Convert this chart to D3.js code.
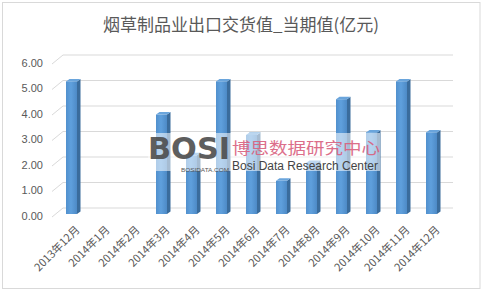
<!DOCTYPE html>
<html>
<head>
<meta charset="utf-8">
<script src="https://cdn.jsdelivr.net/npm/d3@7"></script>
<style>
  html, body { margin: 0; padding: 0; background: #fff; }
  svg { display: block; }
</style>
</head>
<body>
<div id="chart"></div>
<script>
const categories = ['2013年12月', '2014年1月', '2014年2月', '2014年3月', '2014年4月', '2014年5月', '2014年6月',
  '2014年7月', '2014年8月', '2014年9月', '2014年10月', '2014年11月', '2014年12月'];
const values = [5.2, null, null, 3.9, 2.3, 5.2, 3.1, 1.3, 2.0, 4.5, 3.2, 5.2, 3.2];
const yTicks = [0, 1, 2, 3, 4, 5, 6];
const titleText = '烟草制品业出口交货值_当期值(亿元)';

const W = 483, H = 291;
const DEPTH = { dx: 11, dy: -8 };   // back wall offset
const BAR = { dy: -2, w: 11, side: 3.5, rise: 2.5 };

const svg = d3.select('#chart').append('svg')
  .attr('width', W).attr('height', H)
  .style('font-family', '"Noto Sans CJK SC", "Liberation Sans", sans-serif');

const defs = svg.append('defs');
const grad = defs.append('linearGradient').attr('id', 'barFront')
  .attr('x1', 0).attr('x2', 1).attr('y1', 0).attr('y2', 0);
grad.selectAll('stop')
  .data([{ o: '0%', c: '#5190cd' }, { o: '45%', c: '#5fa0dd' }, { o: '100%', c: '#4d8ac6' }])
  .join('stop').attr('offset', d => d.o).attr('stop-color', d => d.c);

// chart frame
svg.append('rect')
  .attr('x', 2.5).attr('y', 2.5).attr('width', W - 5.5).attr('height', H - 5)
  .attr('fill', '#fff').attr('stroke', '#d9d9d9');

svg.append('text')
  .attr('x', 241).attr('y', 31)
  .attr('text-anchor', 'middle')
  .attr('font-size', 17)
  .attr('fill', '#595959')
  .text(titleText);

const x = d3.scaleBand().domain(categories).range([56, 446]);
const y = d3.scaleLinear().domain([0, 6]).range([216, 63]);

// back wall gridlines + left wall diagonals
const grid = svg.append('g').attr('stroke', '#d9d9d9').attr('stroke-width', 1).attr('fill', 'none');
grid.selectAll('line.h').data(yTicks).join('line').attr('class', 'h')
  .attr('x1', 52 + DEPTH.dx).attr('x2', 446 + 7)
  .attr('y1', d => y(d) + DEPTH.dy).attr('y2', d => y(d) + DEPTH.dy);
grid.selectAll('line.d').data(yTicks).join('line').attr('class', 'd')
  .attr('x1', 52).attr('x2', 52 + DEPTH.dx)
  .attr('y1', d => y(d) + 1).attr('y2', d => y(d) + DEPTH.dy);

// y axis labels
svg.append('g').selectAll('text').data(yTicks).join('text')
  .attr('x', 43).attr('y', d => y(d)).attr('dy', '0.35em')
  .attr('text-anchor', 'end')
  .attr('font-family', '"Liberation Sans", Arial, sans-serif')
  .attr('font-size', 11).attr('fill', '#595959')
  .text(d => d.toFixed(2));

// 3D bars
const bars = svg.append('g').selectAll('g')
  .data(categories.map((c, i) => ({ c, v: values[i] })).filter(d => d.v != null))
  .join('g');
bars.each(function (d) {
  const g = d3.select(this);
  const x0 = x(d.c) + x.bandwidth() / 2 - BAR.w / 2 + 0.5;
  const x1 = x0 + BAR.w;
  const yb = y(0) + BAR.dy;
  const yt = y(d.v) + BAR.dy;
  g.append('path')
    .attr('d', `M${x1},${yt}L${x1 + BAR.side},${yt - BAR.rise}L${x1 + BAR.side},${yb - BAR.rise}L${x1},${yb}Z`)
    .attr('fill', '#3a6c9c');
  g.append('path')
    .attr('d', `M${x0},${yt}L${x0 + BAR.side},${yt - BAR.rise}L${x1 + BAR.side},${yt - BAR.rise}L${x1},${yt}Z`)
    .attr('fill', '#6aa5dc');
  g.append('rect')
    .attr('x', x0).attr('y', yt).attr('width', BAR.w).attr('height', yb - yt)
    .attr('fill', 'url(#barFront)');
});

// x axis labels
svg.append('g').selectAll('text').data(categories).join('text')
  .attr('transform', d => `translate(${x(d) + x.bandwidth() / 2 + 4},${225}) rotate(-45)`)
  .attr('text-anchor', 'end')
  .attr('dy', '0.7em')
  .attr('font-size', 11).attr('fill', '#595959')
  .text(d => d);

// watermark
const wm = svg.append('g');
wm.append('rect').attr('x', 148).attr('y', 133).attr('width', 232).attr('height', 38)
  .attr('fill', '#fff').attr('opacity', 0.55);
wm.append('text').attr('x', 148).attr('y', 159)
  .attr('font-family', '"DejaVu Sans", sans-serif').attr('font-weight', 'bold')
  .attr('font-size', 31).attr('textLength', 82).attr('lengthAdjust', 'spacingAndGlyphs')
  .attr('fill', '#4d4d4d').attr('opacity', 0.9).text('BOSI');
wm.append('text').attr('x', 181).attr('y', 172)
  .attr('font-family', '"Liberation Sans", sans-serif')
  .attr('font-size', 6).attr('textLength', 48).attr('lengthAdjust', 'spacingAndGlyphs')
  .attr('fill', '#555').text('BOSIDATA.COM');
wm.append('text').attr('x', 232).attr('y', 154)
  .attr('font-size', 16).attr('textLength', 148).attr('lengthAdjust', 'spacingAndGlyphs')
  .attr('fill', '#d9607e').attr('opacity', 0.9).text('博思数据研究中心');
wm.append('text').attr('x', 232).attr('y', 170)
  .attr('font-family', '"Liberation Sans Narrow", "Liberation Sans", sans-serif')
  .attr('font-size', 12).attr('textLength', 146).attr('lengthAdjust', 'spacingAndGlyphs')
  .attr('fill', '#444').text('Bosi Data Research Center');
</script>
</body>
</html>
